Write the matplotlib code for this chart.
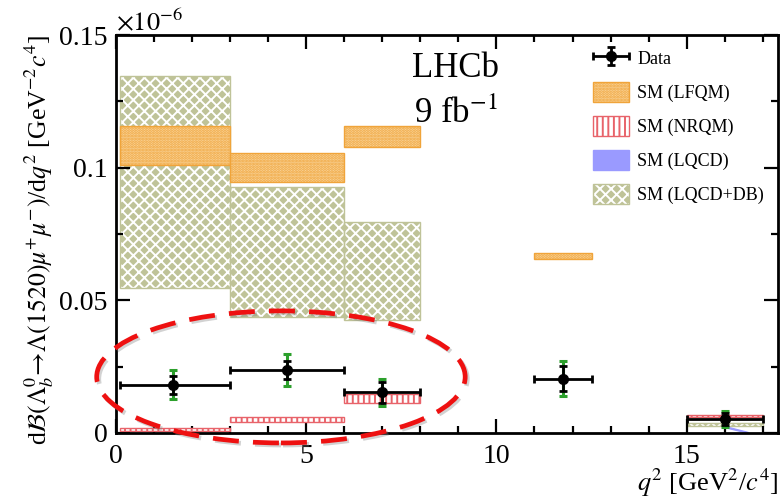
import numpy as np
import matplotlib
matplotlib.use("Agg")
import matplotlib.pyplot as plt
from matplotlib.patches import Patch, Ellipse
from matplotlib.ticker import MultipleLocator, FuncFormatter
from matplotlib.container import ErrorbarContainer
from matplotlib.legend_handler import HandlerErrorbar, HandlerTuple
import matplotlib.patheffects as pe

# -------------------------------------------------------
# Datos (unidades de 1e-6)
# -------------------------------------------------------

BIN_LO = [0.1, 3.0, 6.0, 11.0, 15.0]
BIN_HI = [3.0, 6.0, 8.0, 12.5, 17.0]

DATA_X = [1.5, 4.5, 7.0, 11.75, 16.0]
DATA_Y = [0.0181, 0.0237, 0.0153, 0.0204, 0.0052]
ERR_STAT = [0.0034, 0.0033, 0.0040, 0.0048, 0.0022]
ERR_TOT = [0.0055, 0.0060, 0.0050, 0.0066, 0.0029]

# SM (LFQM)
LFQM_LO = [0.1010, 0.0946, 0.1078, 0.0656]
LFQM_HI = [0.1157, 0.1055, 0.1157, 0.0678]
LFQM_BINS = [0, 1, 2, 3]

# SM (NRQM)
NRQM_LO = [0.0008, 0.0041, 0.0113, 0.0058]
NRQM_HI = [0.0018, 0.0060, 0.0147, 0.0067]
NRQM_BINS = [0, 1, 2, 4]

# SM (LQCD)
LQCD_X = [16.0, 16.6]
LQCD_LO = [0.0021, 0.0000]
LQCD_HI = [0.0026, 0.0004]

# SM (LQCD+DB)
DB_LO = [0.0547, 0.0437, 0.0426, 0.0026]
DB_HI = [0.1347, 0.0927, 0.0795, 0.0036]
DB_BINS = [0, 1, 2, 4]

# -------------------------------------------------------
# Estilo
# -------------------------------------------------------

plt.rcParams["font.family"] = ["Liberation Serif", "DejaVu Serif"]
plt.rcParams["mathtext.fontset"] = "stix"
plt.rcParams["hatch.linewidth"] = 1.4

C_LFQM = "#f0a43a"
F_LFQM = "#f9d49a"
C_NRQM = "#e8636a"
C_LQCD = "#9a9aff"
C_DB = "#bfc398"

# LQCD+DB: fondo oliva con trama blanca, borde aparte
estilo_db = dict(facecolor=C_DB, edgecolor="white", hatch="xxx", linewidth=0)
borde_db = dict(fill=False, edgecolor=C_DB, linewidth=1.0)
estilo_lfqm = dict(facecolor=F_LFQM, edgecolor=C_LFQM, hatch="......", linewidth=1.0)
estilo_nrqm = dict(facecolor="white", edgecolor=C_NRQM, hatch="|||", linewidth=1.0)


def bandas(ax, bins, lo, hi, **kw):

    left = [BIN_LO[i] for i in bins]
    width = [BIN_HI[i] - BIN_LO[i] for i in bins]
    height = [h - l for l, h in zip(lo, hi)]

    return ax.bar(left, height, width=width, bottom=lo, align="edge", **kw)


fig = plt.figure(figsize=(7.82, 5.01), dpi=100)
ax = fig.add_axes([0.148, 0.136, 0.847, 0.794])

bandas(ax, DB_BINS, DB_LO, DB_HI, zorder=1, **estilo_db)
bandas(ax, DB_BINS, DB_LO, DB_HI, zorder=1, **borde_db)

bandas(ax, LFQM_BINS, LFQM_LO, LFQM_HI, zorder=2, **estilo_lfqm)
bandas(ax, NRQM_BINS, NRQM_LO, NRQM_HI, zorder=2, **estilo_nrqm)

ax.fill_between(LQCD_X, LQCD_LO, LQCD_HI, color=C_LQCD, linewidth=0.8,
                edgecolor=C_LQCD, zorder=2)

# errores totales (verde) y estadisticos (negro)
ax.errorbar(DATA_X, DATA_Y, yerr=ERR_TOT, fmt="none", ecolor="#2ca02c",
            elinewidth=2.2, capsize=3, capthick=2.2, zorder=3)

xerr = [np.subtract(DATA_X, BIN_LO), np.subtract(BIN_HI, DATA_X)]

datos = ax.errorbar(DATA_X, DATA_Y, xerr=xerr, yerr=ERR_STAT, fmt="o",
                    color="black", markersize=7, elinewidth=2.0, capsize=3,
                    capthick=2.0, zorder=4, label="Data")

# elipse roja discontinua
elipse = Ellipse((4.34, 0.0211), 9.68, 0.0498, fill=False, edgecolor="#ee1111",
                 linewidth=3.4, linestyle=(0, (5.5, 3.0)), clip_on=False, zorder=5)
elipse.set_path_effects([
    pe.SimpleLineShadow(offset=(1.5, -1.5), shadow_color="gray", alpha=0.35),
    pe.Normal(),
])
ax.add_patch(elipse)

# -------------------------------------------------------
# Ejes
# -------------------------------------------------------

ax.set_xlim(0, 17.4)
ax.set_ylim(0, 0.15)

ax.xaxis.set_major_locator(MultipleLocator(5))
ax.xaxis.set_minor_locator(MultipleLocator(1))
ax.yaxis.set_major_locator(MultipleLocator(0.05))
ax.yaxis.set_minor_locator(MultipleLocator(0.025))
ax.yaxis.set_major_formatter(FuncFormatter(lambda v, p: f"{v:g}"))

ax.tick_params(which="both", direction="in", top=True, right=True, width=1.6)
ax.tick_params(which="major", length=10, labelsize=20, pad=6)
ax.tick_params(which="minor", length=5)
ax.tick_params(axis="x", which="major", pad=8)

for s in ax.spines.values():
    s.set_linewidth(2.0)

ax.set_xlabel(r"$q^2$ [GeV$^2$/$c^4$]", fontsize=19, loc="right")
ax.xaxis.set_label_coords(1.0, -0.085)
ax.set_ylabel(
    r"d$\mathcal{B}(\mathit{\Lambda}_b^0\!\rightarrow\!\mathit{\Lambda}(1520)\mu^{+}\mu^{-})$/d$q^2$ [GeV$^{-2}c^4$]",
    fontsize=18.5, loc="top", labelpad=2,
)

ax.text(0.0, 1.0, r"$\times10^{-6}$", transform=ax.transAxes,
        fontsize=19, ha="left", va="bottom")

ax.text(0.513, 0.915, "LHCb", transform=ax.transAxes, fontsize=25,
        ha="center", va="center")
ax.text(0.513, 0.80, r"9 fb$^{-1}$", transform=ax.transAxes, fontsize=25,
        ha="center", va="center")

# -------------------------------------------------------
# Leyenda
# -------------------------------------------------------

handles = [
    datos,
    Patch(**estilo_lfqm),
    Patch(**estilo_nrqm),
    Patch(facecolor=C_LQCD, edgecolor=C_LQCD),
    (Patch(**estilo_db), Patch(**borde_db)),
]
labels = ["Data", "SM (LFQM)", "SM (NRQM)", "SM (LQCD)", "SM (LQCD+DB)"]

ax.legend(handles, labels, loc="upper left", bbox_to_anchor=(0.71, 0.985),
          frameon=False, fontsize=13, handlelength=2.0, handleheight=1.3,
          labelspacing=0.78, handletextpad=0.45, borderaxespad=0,
          handler_map={ErrorbarContainer: HandlerErrorbar(xerr_size=1.0,
                                                          yerr_size=0.5),
                       tuple: HandlerTuple(ndivide=1)})

fig.savefig("out.png", dpi=100)
